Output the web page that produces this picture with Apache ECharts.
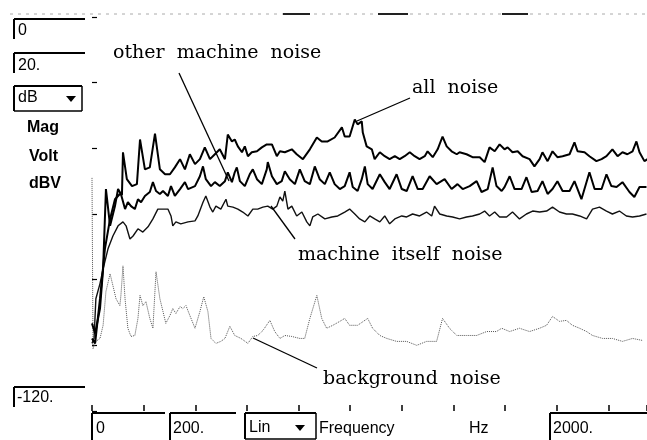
<!DOCTYPE html>
<html>
<head>
<meta charset="utf-8">
<script src="https://cdn.jsdelivr.net/npm/echarts@6/dist/echarts.min.js"></script>
<style>
html, body { margin: 0; padding: 0; background: #fff; }
#chart { width: 647px; height: 440px; }
</style>
</head>
<body>
<div id="chart"></div>
<script>
// spectrum readings, [frequency Hz, level dB]
var allNoise = [[0,-97.9],[12,-99.4],[31,-85.8],[50,-70.6],[70,-61.5],[89,-55.5],[108,-53.9],[116,-54.2],[120,-41.2],[135,-49.4],[155,-51.5],[174,-50.9],[186,-37.3],[205,-46.4],[224,-45.8],[244,-35.5],[263,-46.4],[283,-47.9],[302,-47.9],[321,-45.8],[341,-43.3],[360,-46.4],[379,-41.8],[399,-44.8],[418,-43.3],[437,-39.7],[457,-43.3],[476,-41.8],[495,-40.3],[515,-43.3],[526,-35.8],[542,-37.9],[553,-37.3],[565,-39.4],[581,-41.2],[592,-39.4],[604,-42.4],[619,-41.2],[639,-40.9],[658,-39.7],[677,-38.8],[697,-38.8],[716,-42.4],[728,-40.9],[747,-41.2],[774,-40.3],[793,-41.8],[817,-43.3],[844,-40.3],[871,-36.7],[890,-37.9],[913,-37.9],[940,-36.7],[968,-33.6],[979,-36.4],[998,-36.4],[1018,-31.2],[1029,-32.7],[1045,-31.8],[1049,-35.2],[1064,-39.4],[1084,-40.3],[1095,-43.3],[1115,-41.2],[1134,-42.4],[1153,-43.3],[1173,-42.4],[1192,-43.3],[1211,-42.4],[1231,-41.2],[1250,-42.4],[1269,-43.3],[1289,-42.4],[1300,-40.9],[1320,-42.7],[1339,-40.3],[1358,-36.4],[1374,-39.4],[1393,-40.9],[1413,-41.8],[1424,-41.2],[1451,-41.8],[1474,-42.7],[1502,-42.7],[1521,-44.2],[1540,-39.7],[1560,-40.9],[1579,-38.8],[1598,-40.3],[1610,-39.7],[1629,-41.2],[1649,-40.9],[1668,-42.4],[1695,-43.3],[1714,-45.5],[1734,-43.3],[1745,-41.2],[1765,-43.9],[1784,-40.9],[1803,-42.7],[1823,-42.4],[1850,-41.8],[1869,-38.2],[1881,-40.9],[1908,-41.2],[1927,-42.4],[1954,-43.9],[1974,-43.3],[1993,-42.4],[2016,-40.3],[2036,-42.4],[2055,-41.2],[2074,-41.8],[2094,-40.9],[2109,-37.9],[2121,-41.2],[2140,-43.9],[2152,-43.3]];

var otherMachine = [[0,-93.3],[12,-96.4],[31,-88.8],[43,-76.7],[54,-52.4],[70,-63.6],[89,-57.6],[101,-52.4],[112,-53.9],[128,-58.5],[139,-56.4],[151,-57.6],[166,-58.5],[178,-55.5],[190,-56.4],[205,-54.5],[224,-53.3],[236,-50.3],[248,-53.0],[263,-53.9],[275,-53.0],[294,-54.5],[306,-51.5],[321,-54.5],[341,-52.4],[360,-50.3],[372,-52.4],[399,-51.5],[418,-48.5],[430,-45.5],[441,-49.4],[461,-51.5],[476,-50.3],[495,-51.5],[515,-50.0],[526,-47.3],[542,-50.3],[553,-47.3],[561,-45.8],[573,-50.0],[592,-51.5],[611,-47.9],[623,-46.4],[639,-49.4],[658,-50.9],[677,-46.4],[681,-44.2],[697,-48.5],[716,-50.9],[735,-50.0],[747,-47.0],[766,-49.4],[786,-50.9],[805,-46.4],[824,-50.0],[844,-50.9],[863,-45.5],[882,-49.4],[902,-50.9],[921,-47.3],[940,-50.9],[960,-52.4],[979,-51.5],[998,-47.3],[1010,-51.8],[1029,-53.0],[1045,-49.4],[1057,-45.5],[1068,-50.9],[1087,-52.4],[1115,-47.9],[1134,-50.3],[1153,-52.4],[1180,-47.9],[1200,-52.4],[1219,-53.0],[1242,-48.5],[1262,-52.4],[1281,-52.4],[1308,-48.5],[1335,-50.9],[1366,-49.4],[1393,-52.4],[1416,-50.9],[1436,-52.4],[1463,-51.5],[1490,-50.0],[1509,-53.3],[1533,-52.4],[1552,-45.8],[1567,-51.5],[1587,-53.0],[1598,-51.8],[1618,-48.5],[1637,-52.4],[1664,-52.4],[1683,-48.8],[1703,-53.3],[1726,-53.0],[1745,-50.0],[1765,-53.9],[1784,-52.4],[1803,-50.0],[1823,-53.0],[1850,-53.0],[1869,-50.0],[1896,-55.5],[1927,-47.3],[1947,-52.4],[1974,-52.4],[1993,-47.9],[2012,-51.5],[2032,-51.8],[2055,-50.3],[2082,-53.3],[2101,-54.8],[2121,-51.8],[2148,-51.8]];

var machineItself = [[0,-99.4],[8,-97.9],[15,-85.8],[31,-81.2],[43,-76.7],[62,-70.6],[81,-66.7],[101,-63.6],[120,-62.4],[132,-63.6],[147,-67.6],[159,-66.7],[178,-64.5],[197,-65.5],[217,-63.9],[236,-61.5],[255,-58.5],[275,-58.5],[294,-58.5],[306,-60.6],[313,-63.6],[325,-62.4],[344,-63.0],[372,-62.4],[399,-62.1],[410,-60.6],[430,-56.4],[441,-54.5],[457,-57.9],[468,-59.4],[480,-57.6],[499,-58.5],[519,-55.5],[526,-57.6],[546,-57.9],[565,-58.5],[584,-59.4],[604,-60.6],[623,-58.5],[642,-58.5],[662,-57.9],[681,-57.6],[700,-58.5],[716,-57.6],[728,-54.8],[739,-56.1],[747,-53.0],[759,-58.5],[774,-57.6],[793,-60.6],[813,-59.4],[832,-62.4],[844,-63.6],[855,-60.9],[875,-60.0],[902,-61.5],[929,-60.9],[952,-60.6],[979,-59.4],[998,-58.5],[1018,-60.0],[1037,-61.5],[1057,-62.4],[1076,-60.6],[1095,-61.5],[1115,-62.4],[1134,-60.6],[1153,-63.0],[1173,-61.5],[1200,-60.6],[1219,-60.9],[1242,-60.0],[1269,-60.6],[1296,-59.4],[1316,-60.6],[1327,-57.6],[1347,-60.0],[1374,-60.6],[1397,-60.9],[1424,-61.5],[1451,-60.9],[1474,-60.6],[1502,-60.0],[1521,-59.1],[1540,-60.6],[1560,-59.4],[1579,-60.9],[1606,-60.9],[1629,-59.4],[1656,-61.5],[1683,-60.0],[1707,-59.1],[1734,-59.4],[1761,-59.1],[1784,-57.9],[1811,-59.4],[1838,-60.0],[1861,-60.0],[1889,-60.6],[1916,-61.5],[1939,-58.5],[1966,-57.9],[1993,-59.1],[2016,-60.0],[2043,-59.1],[2070,-60.6],[2094,-60.9],[2121,-60.6],[2148,-60.0]];

var background = [[0,-49.0],[4,-101.0],[15,-98.8],[31,-97.9],[43,-93.9],[54,-83.6],[70,-78.2],[81,-81.8],[93,-85.8],[108,-87.9],[112,-84.8],[120,-75.8],[128,-85.8],[139,-94.8],[151,-97.3],[166,-97.0],[178,-91.8],[186,-84.8],[197,-87.9],[209,-86.7],[224,-91.8],[236,-94.8],[248,-77.6],[263,-85.8],[275,-89.7],[286,-93.3],[302,-90.9],[313,-88.8],[325,-90.3],[341,-88.2],[352,-88.8],[364,-87.9],[379,-90.9],[399,-94.8],[418,-89.7],[433,-85.2],[449,-89.7],[461,-97.9],[480,-99.4],[499,-98.8],[515,-97.9],[534,-94.2],[553,-97.0],[577,-97.9],[604,-99.4],[623,-97.3],[642,-97.0],[662,-95.5],[689,-92.4],[708,-95.8],[728,-97.9],[747,-97.0],[774,-97.3],[805,-97.9],[824,-97.9],[844,-91.8],[871,-84.8],[890,-91.8],[909,-94.8],[933,-93.9],[960,-92.7],[979,-91.8],[998,-93.9],[1029,-93.9],[1068,-91.8],[1087,-94.8],[1115,-97.0],[1142,-97.9],[1180,-98.8],[1219,-98.8],[1258,-100.0],[1296,-98.8],[1335,-98.8],[1358,-91.8],[1385,-94.8],[1413,-97.0],[1451,-97.0],[1490,-97.0],[1529,-95.8],[1567,-95.8],[1587,-94.8],[1618,-95.8],[1656,-94.8],[1695,-95.8],[1734,-94.8],[1761,-93.9],[1784,-91.2],[1811,-92.7],[1838,-92.4],[1861,-93.9],[1889,-94.8],[1916,-95.8],[1939,-97.0],[1978,-97.9],[2016,-97.9],[2055,-98.8],[2094,-97.9],[2132,-98.5]];

var seriesNames = ['all noise', 'other machine noise', 'machine itself noise', 'background noise'];
var yMin = -120, yMax = 0, yStep = 20;
var xMin = 0, xMax = 2150, xStep = 200;

var sansFont = '16px "Liberation Sans", Arial, sans-serif';
var boldFont = 'bold 16px "Liberation Sans", Arial, sans-serif';
var serifFont = '19px "DejaVu Serif", serif';

var myChart = echarts.init(document.getElementById('chart'));

// 前面板上的框
function panelBox(x, y, w, h, full) {
	var items = [
		{ type: 'line', shape: { x1: x, y1: y, x2: x + w, y2: y }, style: { stroke: '#000', lineWidth: 2 } },
		{ type: 'line', shape: { x1: x, y1: y, x2: x, y2: y + h }, style: { stroke: '#000', lineWidth: 2 } }
	];
	if (full) {
		items.push({ type: 'line', shape: { x1: x + w, y1: y, x2: x + w, y2: y + h }, style: { stroke: '#000', lineWidth: 1.5 } });
		items.push({ type: 'line', shape: { x1: x, y1: y + h, x2: x + w, y2: y + h }, style: { stroke: '#000', lineWidth: 1.5 } });
	}
	return items;
}

function label(txt, x, y, font, align) {
	return {
		type: 'text',
		style: { text: txt, x: x, y: y, font: font, fill: '#000', textAlign: align || 'left', textVerticalAlign: 'middle' }
	};
}

function leader(x1, y1, x2, y2) {
	return { type: 'line', z: 10, shape: { x1: x1, y1: y1, x2: x2, y2: y2 }, style: { stroke: '#000', lineWidth: 1.3 } };
}

function arrowDown(cx, cy) {
	return { type: 'polygon', shape: { points: [[cx - 5, cy - 3], [cx + 5, cy - 3], [cx, cy + 3]] }, style: { fill: '#000' } };
}

var graphics = [];
// faint screen frame at the top
graphics.push({ type: 'line', shape: { x1: 10, y1: 14, x2: 647, y2: 14 }, style: { stroke: '#aaa', lineWidth: 1, lineDash: [3, 5] } });
graphics.push({ type: 'line', shape: { x1: 283, y1: 14, x2: 310, y2: 14 }, style: { stroke: '#222', lineWidth: 2 } });
graphics.push({ type: 'line', shape: { x1: 378, y1: 14, x2: 408, y2: 14 }, style: { stroke: '#222', lineWidth: 2 } });
graphics.push({ type: 'line', shape: { x1: 502, y1: 14, x2: 528, y2: 14 }, style: { stroke: '#222', lineWidth: 2 } });

graphics = graphics.concat(panelBox(14, 19, 71, 20, false));
graphics.push(label('0', 18, 31, sansFont));
graphics = graphics.concat(panelBox(14, 53, 71, 20, false));
graphics.push(label('20.', 18, 66, sansFont));
graphics = graphics.concat(panelBox(14, 86, 68, 25, true));
graphics.push(label('dB', 18, 98, sansFont));
graphics.push(arrowDown(71, 99));
graphics.push(label('Mag', 27, 128, boldFont));
graphics.push(label('Volt', 29, 157, boldFont));
graphics.push(label('dBV', 29, 184, boldFont));

graphics = graphics.concat(panelBox(14, 387, 71, 20, false));
graphics.push(label('-120.', 17, 398, sansFont));

graphics = graphics.concat(panelBox(92, 413, 73, 30, false));
graphics.push(label('0', 96, 429, sansFont));
graphics = graphics.concat(panelBox(170, 413, 66, 30, false));
graphics.push(label('200.', 173, 429, sansFont));
graphics = graphics.concat(panelBox(245, 413, 71, 26, true));
graphics.push(label('Lin', 249, 428, sansFont));
graphics.push(arrowDown(300, 428));
graphics.push(label('Frequency', 319, 429, sansFont));
graphics.push(label('Hz', 469, 429, sansFont));
graphics = graphics.concat(panelBox(550, 413, 97, 30, false));
graphics.push(label('2000.', 553, 429, sansFont));

// annotations
graphics.push(label('other  machine  noise', 113, 53, serifFont));
graphics.push(leader(179, 73, 229, 181));
graphics.push(label('all  noise', 412, 88, serifFont));
graphics.push(leader(410, 98, 357, 121));
graphics.push(label('machine  itself  noise', 298, 255, serifFont));
graphics.push(leader(271, 206, 295, 239));
graphics.push(label('background  noise', 323, 379, serifFont));
graphics.push(leader(253, 338, 317, 368));

var option = {
	backgroundColor: '#fff',
	animation: false,
	grid: { left: 92, right: 0, top: 17, bottom: 29 },
	xAxis: {
		type: 'value',
		min: xMin,
		max: xMax,
		interval: xStep,
		axisLine: { show: false, onZero: false },
		axisTick: { show: true, inside: true, length: 6, lineStyle: { color: '#000', width: 1.5 } },
		axisLabel: { show: false },
		splitLine: { show: false }
	},
	yAxis: {
		type: 'value',
		min: yMin,
		max: yMax,
		interval: yStep,
		axisLine: { show: false, onZero: false },
		axisTick: { show: true, inside: true, length: 5, lineStyle: { color: '#000', width: 1.2 } },
		axisLabel: { show: false },
		splitLine: { show: false }
	},
	series: [
		{ name: seriesNames[0], type: 'line', data: allNoise, showSymbol: false, z: 4,
			lineStyle: { color: '#000', width: 2 } },
		{ name: seriesNames[1], type: 'line', data: otherMachine, showSymbol: false, z: 3,
			lineStyle: { color: '#000', width: 2 } },
		{ name: seriesNames[2], type: 'line', data: machineItself, showSymbol: false, z: 2,
			lineStyle: { color: '#111', width: 1.4 } },
		{ name: seriesNames[3], type: 'line', data: background, showSymbol: false, z: 1,
			lineStyle: { color: '#555', width: 1, type: 'dotted' } }
	],
	graphic: graphics
};

myChart.setOption(option);
</script>
</body>
</html>
